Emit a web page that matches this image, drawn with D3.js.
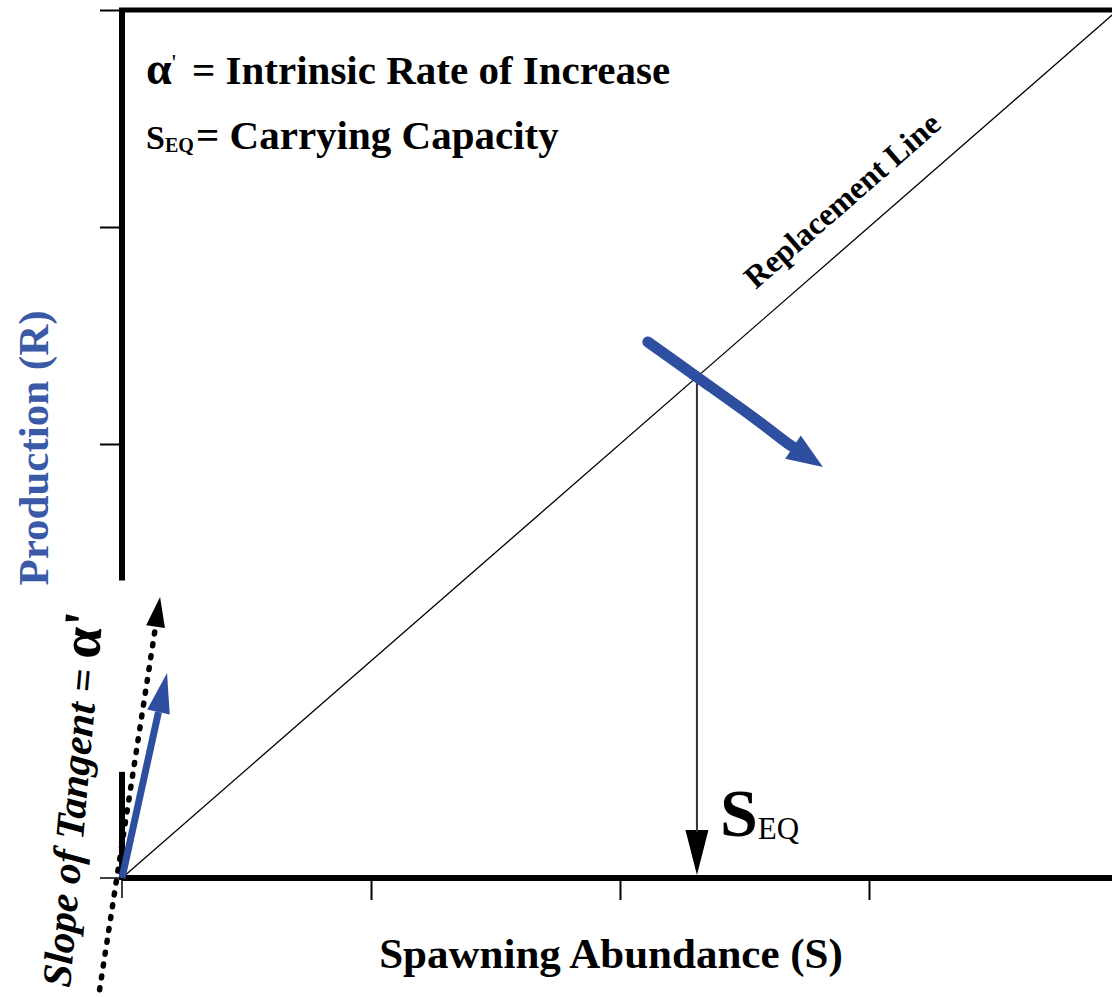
<!DOCTYPE html>
<html><head><meta charset="utf-8">
<script src="https://cdn.jsdelivr.net/npm/d3@7"></script>
<style>html,body{margin:0;padding:0;background:#fff;overflow:hidden}svg{display:block}</style>
</head><body>
<script>
// ---- data ----
const xTicks = [0, 1, 2, 3, 4];
const yTicks = [0, 1, 2, 3, 4];
const replacementLine = [[0, 0], [4, 4]];
const sEq = 2.309;
const rEq = 2.309;
const yAxisSegments = [[0, 0.48], [1.38, 4]];
const bluePath = [[2.112, 2.470], [2.309, 2.309], [2.534, 2.124], [2.683, 1.995], [2.815, 1.894]];
const blueTangent = [[0, 0], [0.181, 0.945]];
const dottedTangent = [[-0.09, -0.515], [0.153, 1.295]];
const legendLines = ["= Intrinsic Rate of Increase", "= Carrying Capacity"];

const W = 1112, H = 997;
const x = d3.scaleLinear().domain([0, 4]).range([122, 1118]);
const y = d3.scaleLinear().domain([0, 4]).range([878, 10]);
const blue = "#2e4ea0";
const font = "'Liberation Serif','Times New Roman',serif";

const svg = d3.select("body").append("svg").attr("width", W).attr("height", H);

function arrowHead(g, p0, p1, len, wid, color) {
  const dx = p1[0] - p0[0], dy = p1[1] - p0[1];
  const L = Math.hypot(dx, dy), ux = dx / L, uy = dy / L;
  const bx = p1[0] - ux * len, by = p1[1] - uy * len;
  const px = -uy * wid / 2, py = ux * wid / 2;
  g.append("path").attr("d", `M${p1[0]},${p1[1]}L${bx + px},${by + py}L${bx - px},${by - py}Z`).attr("fill", color);
  return [bx, by];
}

// axes ticks
const xAxis = d3.axisBottom(x).tickValues(xTicks.slice(1)).tickSize(22).tickFormat("");
const gx = svg.append("g").attr("transform", `translate(0,${y(0)})`).call(xAxis);
gx.select(".domain").remove();
gx.selectAll("line").attr("stroke", "#000").attr("stroke-width", 2);
const yAxis = d3.axisLeft(y).tickValues(yTicks.filter(v => v >= 2)).tickSize(22).tickFormat("");
const gy = svg.append("g").attr("transform", `translate(${x(0)},0)`).call(yAxis);
gy.select(".domain").remove();
gy.selectAll("line").attr("stroke", "#000").attr("stroke-width", 2);

// axis lines
svg.append("line").attr("x1", x(0)).attr("x2", W).attr("y1", y(0)).attr("y2", y(0)).attr("stroke", "#000").attr("stroke-width", 6);
svg.append("line").attr("x1", x(0) - 3).attr("x2", W).attr("y1", y(4)).attr("y2", y(4)).attr("stroke", "#000").attr("stroke-width", 5);
yAxisSegments.forEach(s => {
  svg.append("line").attr("x1", x(0)).attr("x2", x(0)).attr("y1", y(s[0]) + 2).attr("y2", y(s[1]) - 2).attr("stroke", "#000").attr("stroke-width", 6);
});
// origin cross
svg.append("line").attr("x1", x(0) - 22).attr("x2", x(0)).attr("y1", y(0)).attr("y2", y(0)).attr("stroke", "#000").attr("stroke-width", 1.5);
svg.append("line").attr("x1", x(0)).attr("x2", x(0)).attr("y1", y(0)).attr("y2", y(0) + 20).attr("stroke", "#000").attr("stroke-width", 1.5);

// replacement line
svg.append("path").datum(replacementLine).attr("d", d3.line().x(d => x(d[0])).y(d => y(d[1])))
  .attr("fill", "none").attr("stroke", "#000").attr("stroke-width", 1.3);

// vertical S_EQ line with arrow
const vb = arrowHead(svg.append("g"), [x(sEq), y(rEq)], [x(sEq), y(0) - 3], 45, 23, "#000");
svg.append("line").attr("x1", x(sEq)).attr("x2", x(sEq)).attr("y1", y(rEq) + 4).attr("y2", vb[1] + 2).attr("stroke", "#333").attr("stroke-width", 2);

// blue arrow crossing equilibrium
const bp = bluePath.map(d => [x(d[0]), y(d[1])]);
const n = bp.length;
const bEnd = arrowHead(svg.append("g"), bp[n - 2], bp[n - 1], 36, 28, blue);
const bpBody = bp.slice(0, n - 1).concat([bEnd]);
svg.append("path").attr("d", d3.line().curve(d3.curveCatmullRom)(bpBody))
  .attr("fill", "none").attr("stroke", blue).attr("stroke-width", 11).attr("stroke-linecap", "round");

// dotted tangent arrow
const dp = dottedTangent.map(d => [x(d[0]), y(d[1])]);
const dEnd = arrowHead(svg.append("g"), dp[0], dp[1], 30, 19, "#000");
svg.append("line").attr("x1", dp[0][0]).attr("y1", dp[0][1]).attr("x2", dEnd[0]).attr("y2", dEnd[1])
  .attr("stroke", "#000").attr("stroke-width", 5.5).attr("stroke-linecap", "round").attr("stroke-dasharray", "2 10");

// blue tangent arrow
const tp = blueTangent.map(d => [x(d[0]), y(d[1])]);
const tEnd = arrowHead(svg.append("g"), tp[0], tp[1], 40, 23, blue);
svg.append("line").attr("x1", tp[0][0]).attr("y1", tp[0][1]).attr("x2", tEnd[0]).attr("y2", tEnd[1])
  .attr("stroke", blue).attr("stroke-width", 7);

// legend texts
const t1 = svg.append("text").attr("x", 146).attr("y", 84).attr("font-family", font).attr("font-weight", "bold").attr("font-size", 41);
t1.append("tspan").attr("font-size", 46).text("α");
t1.append("tspan").attr("font-size", 24).attr("dy", -14).attr("font-weight", "normal").text("'");
t1.append("tspan").attr("dy", 14).attr("x", 192).text(legendLines[0]);
const t2 = svg.append("text").attr("x", 146).attr("y", 149).attr("font-family", font).attr("font-weight", "bold").attr("font-size", 41);
t2.append("tspan").attr("font-size", 34).text("S");
t2.append("tspan").attr("font-size", 20).attr("dy", 3).text("EQ");
t2.append("tspan").attr("dy", -3).attr("x", 196).text(legendLines[1]);

// Replacement Line label
const ang = Math.atan2(y(0) - y(4), x(4) - x(0)) * 180 / Math.PI;
svg.append("text").attr("transform", `translate(${x(2.545)},${y(2.71)}) rotate(${-ang})`)
  .attr("font-family", font).attr("font-weight", "bold").attr("font-size", 32).text("Replacement Line");

// S_EQ label
const t3 = svg.append("text").attr("x", 720).attr("y", 836).attr("font-family", font).attr("font-weight", "bold").attr("font-size", 68);
t3.append("tspan").text("S");
t3.append("tspan").attr("font-size", 31).attr("font-weight", "normal").attr("dy", 3).text("EQ");

// axis titles
svg.append("text").attr("x", 611).attr("y", 968).attr("text-anchor", "middle").attr("font-family", font)
  .attr("font-weight", "bold").attr("font-size", 43).text("Spawning Abundance (S)");
svg.append("text").attr("transform", `translate(48,448) rotate(-90)`).attr("text-anchor", "middle").attr("font-family", font)
  .attr("font-weight", "bold").attr("font-size", 43).attr("fill", "#3a5aa8").text("Production (R)");
const t4 = svg.append("text").attr("transform", `translate(70,988) rotate(-85)`).attr("font-family", font)
  .attr("font-weight", "bold").attr("font-style", "italic").attr("font-size", 41);
t4.append("tspan").text("Slope of Tangent = ");
t4.append("tspan").attr("font-size", 56).attr("font-style", "normal").text("α");
t4.append("tspan").attr("font-size", 56).attr("font-style", "normal").text("'");
</script>
</body></html>
